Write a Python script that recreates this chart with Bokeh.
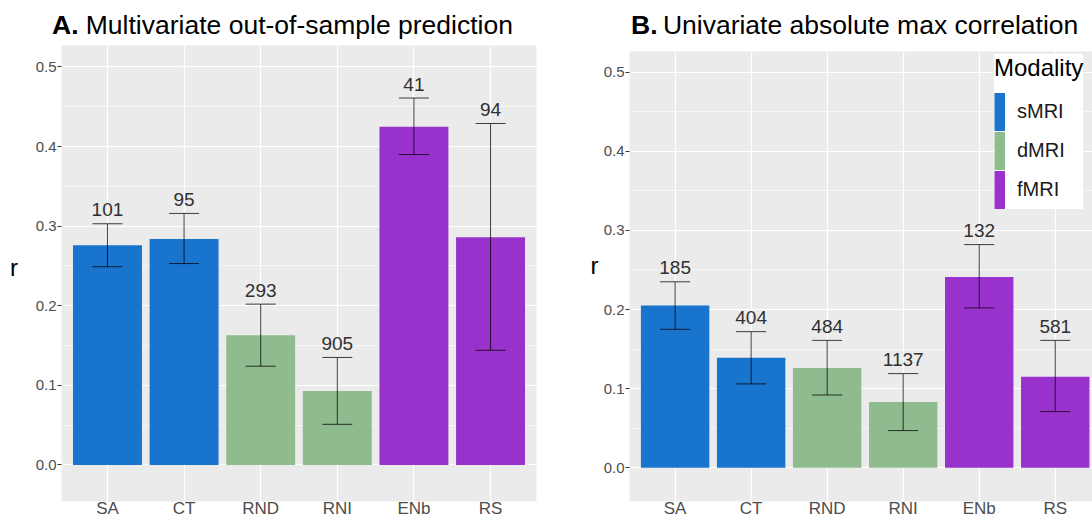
import numpy as np
from bokeh.plotting import figure
from bokeh.models import (ColumnDataSource, Range1d, FixedTicker, Whisker, TeeHead,
                          PrintfTickFormatter, Legend, LegendItem)
from bokeh.layouts import row, column
from bokeh.core.properties import value
from bokeh.embed import file_html
from bokeh.resources import INLINE

# ---------------- data ----------------
categories = ["SA", "CT", "RND", "RNI", "ENb", "RS"]
modality = ["sMRI", "sMRI", "dMRI", "dMRI", "fMRI", "fMRI"]
modality_order = ["sMRI", "dMRI", "fMRI"]
modality_colors = {"sMRI": "#1874CD", "dMRI": "#8FBC8F", "fMRI": "#9932CC"}

# Panel A: multivariate out-of-sample prediction
a_r = [0.276, 0.284, 0.163, 0.093, 0.425, 0.286]
a_lo = [0.249, 0.253, 0.124, 0.051, 0.390, 0.144]
a_hi = [0.303, 0.316, 0.202, 0.135, 0.461, 0.429]
a_n = [101, 95, 293, 905, 41, 94]

# Panel B: univariate absolute max correlation
b_r = [0.205, 0.139, 0.126, 0.083, 0.241, 0.115]
b_lo = [0.175, 0.106, 0.092, 0.047, 0.202, 0.071]
b_hi = [0.235, 0.172, 0.161, 0.119, 0.282, 0.161]
b_n = [185, 404, 484, 1137, 132, 581]

y_ticks = [0.0, 0.1, 0.2, 0.3, 0.4, 0.5]
y_minor = [0.05, 0.15, 0.25, 0.35, 0.45]

title_a = ("A.", "Multivariate out-of-sample prediction")
title_b = ("B.", "Univariate absolute max correlation")
y_title = "r"
legend_title = "Modality"

FONT = "Liberation Sans"
BOTTOM = 19


def blank_fig(width, height, xr, yr, top=0, bottom=0):
    f = figure(width=width, height=height, output_backend="svg", toolbar_location=None,
               x_range=Range1d(*xr), y_range=Range1d(*yr), title=None,
               x_axis_type=None, y_axis_type=None,
               min_border_left=0, min_border_right=0,
               min_border_top=top, min_border_bottom=bottom)
    f.outline_line_color = None
    f.background_fill_color = "white"
    f.border_fill_color = "white"
    f.xgrid.visible = False
    f.ygrid.visible = False
    return f


def make_panel(r, lo, hi, n, width, left, right, top, xr, yr):
    xs = [i + 1 for i in range(len(categories))]
    src = ColumnDataSource(dict(
        x=xs, r=r, lo=lo, hi=hi, n=[str(v) for v in n],
        modality=modality, color=[modality_colors[m] for m in modality]))
    p = figure(width=width, height=480, output_backend="svg", toolbar_location=None,
               x_range=Range1d(*xr), y_range=Range1d(*yr), title=None,
               min_border_left=left, min_border_right=right,
               min_border_top=top, min_border_bottom=BOTTOM)
    p.background_fill_color = "#EBEBEB"
    p.border_fill_color = "white"
    p.outline_line_color = None

    p.vbar(x="x", top="r", width=0.9, source=src, fill_color="color", line_color=None)

    p.add_layout(Whisker(source=src, base="x", upper="hi", lower="lo",
                         line_color="black", line_alpha=0.75, line_width=1,
                         level="annotation",
                         upper_head=TeeHead(size=30, line_color="black", line_alpha=0.75, line_width=1),
                         lower_head=TeeHead(size=30, line_color="black", line_alpha=0.75, line_width=1)))

    p.text(x="x", y="hi", text="n", source=src, text_align="center",
           text_baseline="middle", y_offset=-14, text_font=value(FONT),
           text_font_size="19px", text_color="#303030")

    # axes
    p.xaxis.ticker = FixedTicker(ticks=xs)
    p.xaxis.major_label_overrides = {x: c for x, c in zip(xs, categories)}
    p.xaxis.axis_line_color = None
    p.xaxis.major_tick_in = 0
    p.xaxis.major_tick_out = 0
    p.xaxis.major_label_standoff = -3
    p.xaxis.major_label_text_font = FONT
    p.xaxis.major_label_text_font_size = "17px"
    p.xaxis.major_label_text_color = "#4D4D4D"

    p.yaxis.ticker = FixedTicker(ticks=y_ticks, minor_ticks=y_minor)
    p.yaxis.formatter = PrintfTickFormatter(format="%.1f")
    p.yaxis.axis_line_color = None
    p.yaxis.major_tick_in = 0
    p.yaxis.major_tick_out = 4
    p.yaxis.major_tick_line_color = "#333333"
    p.yaxis.minor_tick_in = 0
    p.yaxis.minor_tick_out = 0
    p.yaxis.major_label_standoff = 1
    p.yaxis.major_label_text_font = FONT
    p.yaxis.major_label_text_font_size = "15px"
    p.yaxis.major_label_text_color = "#4D4D4D"

    p.xgrid.grid_line_color = "white"
    p.xgrid.grid_line_width = 1.2
    p.ygrid.grid_line_color = "white"
    p.ygrid.grid_line_width = 1.2
    p.ygrid.minor_grid_line_color = "white"
    p.ygrid.minor_grid_line_width = 0.6
    return p


# ---------------- header with panel titles (page coordinates) ----------------
hdr = blank_fig(1092, 40, (0, 1092), (40, 0))
hdr.text(x=[51.5, 630.5], y=[24.3, 24.3], text=[title_a[0], title_b[0]],
         text_font=value(FONT), text_font_size="26.5px", text_font_style="bold",
         text_color="black", text_baseline="middle", text_align="left")
hdr.text(x=[85.3, 662.4], y=[24.3, 24.3], text=[title_a[1], title_b[1]],
         text_font=value(FONT), text_font_size="26.5px",
         text_color="black", text_baseline="middle", text_align="left")

# ---------------- y titles (upright "r"), frames span page y 45..501 ----------------
rA = blank_fig(31, 480, (0, 31), (501, 45), 5, BOTTOM)
rA.text(x=[9.5], y=[267.4], text=[y_title], text_font=value(FONT), text_font_size="24px",
        text_color="black", text_baseline="middle", text_align="left")
rB = blank_fig(40, 480, (560, 600), (501, 45), 5, BOTTOM)
rB.text(x=[590], y=[264.7], text=[y_title], text_font=value(FONT), text_font_size="24px",
        text_color="black", text_baseline="middle", text_align="left")

# ---------------- panels ----------------
pA = make_panel(a_r, a_lo, a_hi, a_n, 529, 30, 24, 5, (0.4, 6.6), (-0.046, 0.527))
pB = make_panel(b_r, b_lo, b_hi, b_n, 492, 28, 0, 11, (0.4, 6.49), (-0.0426, 0.526))

# legend for panel B (thick line proxies give solid full-height keys)
items = []
for m in modality_order:
    proxy = pB.line(x=[np.nan, np.nan], y=[np.nan, np.nan], line_color=modality_colors[m],
                    line_width=38, line_cap="butt")
    items.append(LegendItem(label=m, renderers=[proxy]))
lg = Legend(items=items, location=(365, 292))
lg.title = legend_title
lg.title_text_font = FONT
lg.title_text_font_size = "24px"
lg.title_text_font_style = "normal"
lg.title_text_color = "black"
lg.title_standoff = 10
lg.label_text_font = FONT
lg.label_text_font_size = "20px"
lg.label_text_color = "#1A1A1A"
lg.glyph_width = 11
lg.glyph_height = 39
lg.spacing = 0
lg.label_standoff = 12
lg.padding = 7
lg.margin = 0
lg.background_fill_color = "white"
lg.background_fill_alpha = 1.0
lg.border_line_color = None
pB.add_layout(lg)

layout = column(hdr, row(rA, pA, rB, column(pB)))
open("out.html", "w").write(file_html(layout, INLINE))
